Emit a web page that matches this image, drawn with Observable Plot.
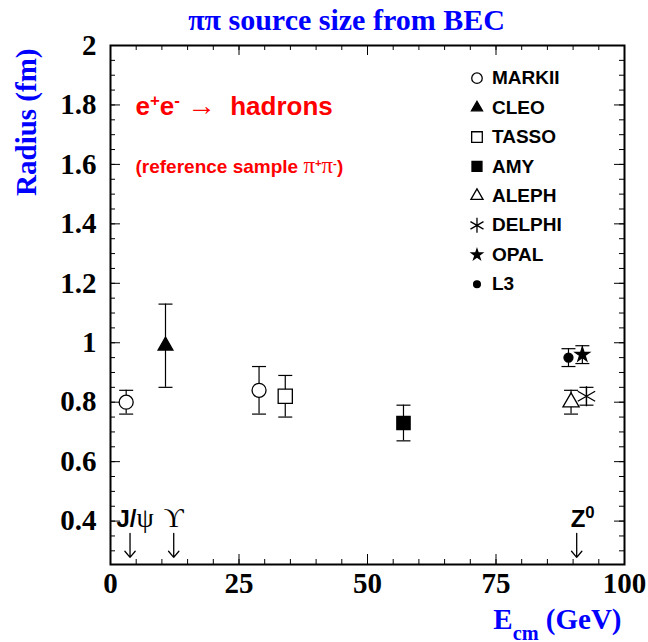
<!DOCTYPE html>
<html><head><meta charset="utf-8">
<script src="https://cdn.jsdelivr.net/npm/d3@7"></script>
<script src="https://cdn.jsdelivr.net/npm/@observablehq/plot@0.6"></script>
<style>html,body{margin:0;padding:0;background:#fff} svg{display:block}</style>
</head><body><div id="chart"></div>
<script>
// ---- data ----
const experiments = ["MARKII","CLEO","MARKII","TASSO","AMY","ALEPH","DELPHI","OPAL","L3"];
const energy  = [3.05, 10.7, 28.9, 34.0, 57.0, 89.6, 92.6, 91.8, 89.1];
const radius  = [0.80, 0.99, 0.84, 0.82, 0.73, 0.80, 0.82, 0.96, 0.95];
const errLow  = [0.04, 0.14, 0.08, 0.07, 0.06, 0.04, 0.03, 0.03, 0.03];
const errHigh = [0.04, 0.14, 0.08, 0.07, 0.06, 0.04, 0.03, 0.03, 0.03];
const legendNames = ["MARKII","CLEO","TASSO","AMY","ALEPH","DELPHI","OPAL","L3"];
const resonanceNames  = ["J/ψ","ϒ","Z0"];
const resonanceEnergy = [3.8, 12.3, 90.7];
const xTicks = [0, 25, 50, 75, 100];
const yTicks = [0.4, 0.6, 0.8, 1, 1.2, 1.4, 1.6, 1.8, 2];
const xTickLabels = ["0","25","50","75","100"];
const yTickLabels = ["0.4","0.6","0.8","1","1.2","1.4","1.6","1.8","2"];
const titleText = "ππ source size from BEC";
const yTitle = "Radius (fm)";
const xTitle = "Ecm (GeV)";
const note1 = "e+e- → hadrons";
const note2 = "(reference sample π+π-)";

// ---- styles ----
const styles = {
  MARKII: {symbol: "circle",   fill: "white", stroke: "black", r: 7},
  CLEO:   {symbol: "triangle", fill: "black", stroke: "black", r: 5.5},
  TASSO:  {symbol: "square",   fill: "white", stroke: "black", r: 8},
  AMY:    {symbol: "square",   fill: "black", stroke: "black", r: 7.5},
  ALEPH:  {symbol: "triangle", fill: "white", stroke: "black", r: 6},
  DELPHI: {symbol: "asterisk", fill: "none",  stroke: "black", r: 9.5},
  OPAL:   {symbol: "star",     fill: "black", stroke: "black", r: 4.5},
  L3:     {symbol: "circle",   fill: "black", stroke: "black", r: 4.5}
};
const SANS = "Liberation Sans, Arial, Helvetica, sans-serif";
const SERIF = "Liberation Serif, Times New Roman, serif";

const points = experiments.map((e, i) => ({
  experiment: e, energy: energy[i], radius: radius[i],
  lo: radius[i] - errLow[i], hi: radius[i] + errHigh[i]
}));
const resonances = resonanceNames.map((n, i) => ({name: n, energy: resonanceEnergy[i]}));
const legendRows = legendNames.map((n, i) => ({name: n, row: i}));

const W = 648, H = 642, mL = 110, mR = 24, mT = 45, mB = 78;
const fw = W - mL - mR, fh = H - mT - mB;
const xMinor = d3.range(0, 101, 5);
const yMinor = d3.range(6, 41).map(k => k * 0.05);

const capSymbol = {draw(ctx, size) { const w = Math.sqrt(size / Math.PI); ctx.moveTo(-w, 0); ctx.lineTo(w, 0); }};

const legendTop = 1.89, legendStep = 0.099, legendX = 71.3;
const labelDx = {"J/ψ": 5, "ϒ": 0, "Z0": 6};

const marks = [
  // ticks (inward)
  Plot.ruleY(yMinor, {insetRight: fw - 5, stroke: "black"}),
  Plot.ruleY(yMinor, {insetLeft: fw - 5, stroke: "black"}),
  Plot.ruleY(yTicks, {insetRight: fw - 10, stroke: "black"}),
  Plot.ruleY(yTicks, {insetLeft: fw - 10, stroke: "black"}),
  Plot.ruleX(xMinor, {insetTop: fh - 5, stroke: "black"}),
  Plot.ruleX(xMinor, {insetBottom: fh - 5, stroke: "black"}),
  Plot.ruleX(xTicks, {insetTop: fh - 10, stroke: "black"}),
  Plot.ruleX(xTicks, {insetBottom: fh - 10, stroke: "black"}),
  Plot.frame({stroke: "black", strokeWidth: 2}),
  Plot.axisY(yTicks, {anchor: "left", tickSize: 0, tickPadding: 14, label: null,
    tickFormat: (d, i) => yTickLabels[i], fontSize: 29, fontWeight: "bold", fontFamily: SERIF}),
  Plot.axisX(xTicks, {anchor: "bottom", tickSize: 0, tickPadding: 8, label: null,
    tickFormat: (d, i) => xTickLabels[i], fontSize: 29, fontWeight: "bold", fontFamily: SERIF}),
  // error bars
  Plot.ruleX(points, {x: "energy", y1: "lo", y2: "hi", stroke: "black", strokeWidth: 1.2}),
  Plot.dot(points, {x: "energy", y: "lo", symbol: capSymbol, r: 7, stroke: "black", strokeWidth: 1.2}),
  Plot.dot(points, {x: "energy", y: "hi", symbol: capSymbol, r: 7, stroke: "black", strokeWidth: 1.2}),
];
for (const [name, s] of Object.entries(styles)) {
  marks.push(Plot.dot(points.filter(p => p.experiment === name), {
    x: "energy", y: "radius", symbol: s.symbol, r: s.r, fill: s.fill, stroke: s.stroke, strokeWidth: 1.3
  }));
  marks.push(Plot.dot(legendRows.filter(p => p.name === name), {
    x: () => legendX, y: d => legendTop - d.row * legendStep, symbol: s.symbol, r: s.r * 0.75,
    fill: s.fill, stroke: s.stroke, strokeWidth: 1.3
  }));
}
marks.push(
  Plot.text(legendRows, {x: () => legendX, y: d => legendTop - d.row * legendStep, text: "name",
    dx: 15, textAnchor: "start", fontSize: 19, fontWeight: "bold", fontFamily: SANS, fill: "black"}),
  // resonance arrows
  Plot.arrow(resonances, {x1: "energy", x2: "energy", y1: 0.359, y2: 0.278, stroke: "black",
    strokeWidth: 1.3, headLength: 14, headAngle: 80}),
  Plot.text(resonances, {x: "energy", frameAnchor: "bottom", dy: -38, lineAnchor: "bottom", text: "name",
    dx: 0, fontSize: 24, fontWeight: "bold", fontFamily: SANS, fill: "black"}),
  // annotations
  Plot.text([note1], {text: d => d, frameAnchor: "top-left", dx: 25, dy: 69, lineAnchor: "bottom",
    textAnchor: "start", fontSize: 26, fontWeight: "bold", fontFamily: SANS, fill: "red"}),
  Plot.text([note2], {text: d => d, frameAnchor: "top-left", dx: 25, dy: 127, lineAnchor: "bottom",
    textAnchor: "start", fontSize: 19, fontWeight: "bold", fontFamily: SANS, fill: "red"}),
  // titles
  Plot.text([titleText], {text: d => d, frameAnchor: "top", dx: -21, dy: -16, lineAnchor: "bottom",
    fontSize: 30, fontWeight: "bold", fontFamily: SERIF, fill: "blue"}),
  Plot.text([yTitle], {text: d => d, frameAnchor: "top-left", rotate: -90, textAnchor: "end",
    dx: -95, dy: 3, fontSize: 29, fontWeight: "bold", fontFamily: SERIF, fill: "blue"}),
  Plot.text([xTitle], {text: d => d, frameAnchor: "bottom-right", textAnchor: "end", lineAnchor: "bottom",
    dx: -3, dy: 64, fontSize: 29, fontWeight: "bold", fontFamily: SERIF, fill: "blue"})
);

const svg = Plot.plot({
  width: W, height: H, marginLeft: mL, marginRight: mR, marginTop: mT, marginBottom: mB,
  x: {domain: [0, 100]},
  y: {domain: [0.254, 2]},
  style: {background: "white", color: "black", overflow: "visible"},
  marks
});

// rich text helper (super/subscripts, mixed fonts)
function rich(match, parts) {
  d3.select(svg).selectAll("text").filter(function() { return this.textContent === match; }).each(function() {
    const t = d3.select(this);
    t.text(null);
    for (const p of parts) {
      const s = t.append("tspan").text(p.t);
      if (p.sup) s.attr("baseline-shift", "super").attr("font-size", p.size || "60%");
      if (p.sub) s.attr("baseline-shift", "sub").attr("font-size", p.size || "70%");
      if (p.font) s.attr("font-family", p.font);
      if (p.weight) s.attr("font-weight", p.weight);
      if (p.fs) s.attr("font-size", p.fs);
    }
  });
}
rich(note1, [{t: "e"}, {t: "+", sup: true, size: "65%"}, {t: "e"}, {t: "-", sup: true, size: "65%"}, {t: " "},
  {t: "→", font: SERIF, weight: "normal", fs: "110%"}, {t: "  hadrons"}]);
rich(note2, [{t: "(reference sample "}, {t: "π", font: SERIF, weight: "normal", fs: "120%"},
  {t: "+", sup: true}, {t: "π", font: SERIF, weight: "normal", fs: "120%"}, {t: "-", sup: true}, {t: ")"}]);
rich(xTitle, [{t: "E"}, {t: "cm", sub: true}, {t: " (GeV)"}]);
rich("J/ψ", [{t: "J/"}, {t: "ψ", font: SERIF, weight: "normal", fs: "115%"}]);
rich("ϒ", [{t: "ϒ", font: SERIF, weight: "normal", fs: "115%"}]);
rich("Z0", [{t: "Z"}, {t: "0", sup: true, size: "70%"}]);
// nudge resonance labels
d3.select(svg).selectAll("text").each(function() {
  const k = this.textContent;
  if (k in labelDx && labelDx[k]) {
    const x = +this.getAttribute("x");
    if (!isNaN(x)) this.setAttribute("x", x + labelDx[k]);
  }
});
document.getElementById("chart").appendChild(svg);
</script>
</body></html>
